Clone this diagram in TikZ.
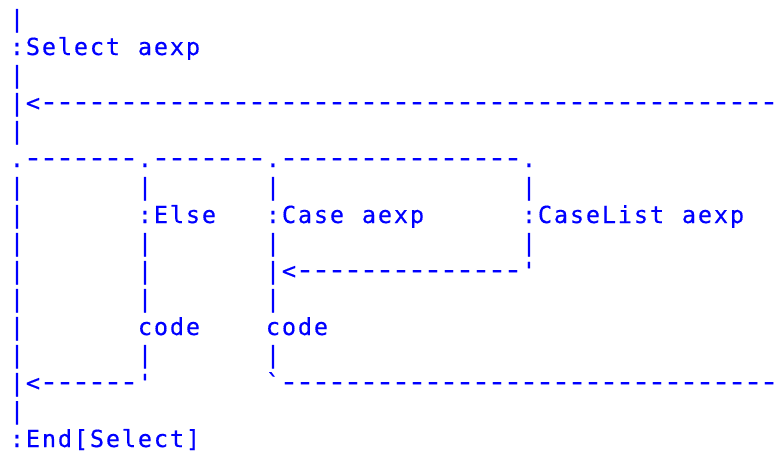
\documentclass[tikz,border=0pt]{standalone}
\usepackage{graphicx}
\usepackage{fontspec}
\setmonofont{DejaVu Sans Mono}[FakeBold=0.4]
\ExplSyntaxOn
\NewDocumentCommand\gridtext{m}{
  \str_map_inline:nn {#1} {
    \str_if_eq:nnTF {##1} {-}
      { \makebox[16pt][c]{\scalebox{1.4}[1.2]{-}} }
      { \makebox[16pt][c]{##1} }
  }
}
\ExplSyntaxOff
\tikzset{
  asc/.style={inner sep=0pt, outer sep=0pt, anchor=base west, text=blue,
    font=\ttfamily\fontsize{23.5}{28}\selectfont}
}
\newcommand\cell[4]{\node[asc] (#1) at ({9+16*#2},{55+28*#3}) {\gridtext{#4}};}
\begin{document}
\begin{tikzpicture}[x=1pt,y=-1pt]
\useasboundingbox (0,0) rectangle (778,453);
\clip (0,0) rectangle (778,453);
\cell{r0}{0}{-1}{|}
\cell{sel}{0}{0}{:Select aexp}
\cell{r2}{0}{1}{|}
\cell{loop}{0}{2}{|<----------------------------------------------}
\cell{r4}{0}{3}{|}
\cell{top}{0}{4}{.-------.-------.---------------.}
\cell{a6}{0}{5}{|}
\cell{b6}{8}{5}{|}
\cell{c6}{16}{5}{|}
\cell{d6}{32}{5}{|}
\cell{a7}{0}{6}{|}
\cell{else}{8}{6}{:Else}
\cell{case}{16}{6}{:Case aexp}
\cell{clist}{32}{6}{:CaseList aexp}
\cell{a8}{0}{7}{|}
\cell{b8}{8}{7}{|}
\cell{c8}{16}{7}{|}
\cell{d8}{32}{7}{|}
\cell{a9}{0}{8}{|}
\cell{b9}{8}{8}{|}
\cell{back}{16}{8}{|<--------------'}
\cell{a10}{0}{9}{|}
\cell{b10}{8}{9}{|}
\cell{c10}{16}{9}{|}
\cell{a11}{0}{10}{|}
\cell{codea}{8}{10}{code}
\cell{codeb}{16}{10}{code}
\cell{a12}{0}{11}{|}
\cell{b12}{8}{11}{|}
\cell{c12}{16}{11}{|}
\cell{join}{0}{12}{|<------'}
\cell{exit}{16}{12}{`-------------------------------}
\cell{a14}{0}{13}{|}
\cell{end}{0}{14}{:End[Select]}
\end{tikzpicture}
\end{document}
